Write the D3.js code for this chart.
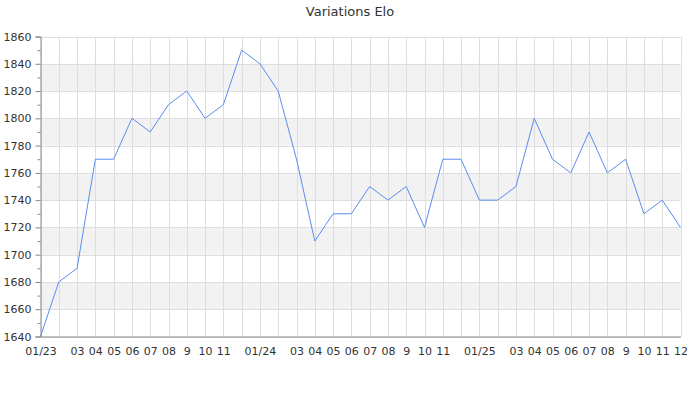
<!DOCTYPE html>
<html><head><meta charset="utf-8">
<script src="https://cdn.jsdelivr.net/npm/d3@7"></script>
<style>body{margin:0;background:#fff;font-family:"DejaVu Sans",sans-serif;}</style>
</head><body><svg id="c" width="700" height="400"></svg>
<script>
const title = "Variations Elo";
const months = d3.range(36);
const tickLabels = ["01/23","","03","04","05","06","07","08","9","10","11","",
                    "01/24","","03","04","05","06","07","08","9","10","11","",
                    "01/25","","03","04","05","06","07","08","9","10","11","12"];
const elo = [1640,1680,1690,1770,1770,1800,1790,1810,1820,1800,1810,1850,
             1840,1820,1770,1710,1730,1730,1750,1740,1750,1720,1770,1770,
             1740,1740,1750,1800,1770,1760,1790,1760,1770,1730,1740,1720];
const yTicks = d3.range(1640, 1861, 20);
const yMinor = d3.range(1650, 1860, 20);

const svg = d3.select("#c");
const L = 40.5, R = 680.5, T = 36.5, B = 336.5;
const x = d3.scaleLinear().domain([0, 35]).range([L, R]);
const y = d3.scaleLinear().domain([1640, 1860]).range([B, T]);

// bands
const bands = yTicks.slice(0, -1).filter((v, i) => i % 2 === 1);
svg.append("g").selectAll("rect").data(bands).join("rect")
  .attr("x", L).attr("width", R - L)
  .attr("y", d => y(d + 20)).attr("height", d => y(d) - y(d + 20))
  .attr("fill", "#f2f2f2");

// grid
svg.append("g").selectAll("line").data(yTicks).join("line")
  .attr("x1", L).attr("x2", R).attr("y1", d => Math.round(y(d)) + 0.5).attr("y2", d => Math.round(y(d)) + 0.5)
  .attr("stroke", "#dedede").attr("stroke-width", 1);
svg.append("g").selectAll("line").data(months).join("line")
  .attr("y1", T).attr("y2", B).attr("x1", d => Math.round(x(d)) + 0.5).attr("x2", d => Math.round(x(d)) + 0.5)
  .attr("stroke", "#dedede").attr("stroke-width", 1);

// line
const line = d3.line().x((d, i) => x(i)).y(d => y(d));
svg.append("path").datum(elo).attr("d", line)
  .attr("fill", "none").attr("stroke", "#5b8def").attr("stroke-width", 1);

// y axis
const yAxis = d3.axisLeft(y).tickValues(yTicks).tickSize(5).tickPadding(4).tickFormat(d3.format("d"));
const gy = svg.append("g").attr("transform", `translate(${L},0)`).call(yAxis);
gy.select(".domain").attr("stroke", "#888");
gy.selectAll(".tick line").attr("stroke", "#888");
gy.selectAll("text").attr("fill", "#333").style("font-size", "11px").style("font-family", "DejaVu Sans");
const gym = svg.append("g").attr("transform", `translate(${L},0)`)
  .call(d3.axisLeft(y).tickValues(yMinor).tickSize(3).tickFormat(""));
gym.select(".domain").remove();
gym.selectAll(".tick line").attr("stroke", "#888");

// x axis
const xAxis = d3.axisBottom(x).tickValues(months).tickSize(0).tickPadding(11).tickFormat(i => tickLabels[i]);
const gx = svg.append("g").attr("transform", `translate(0,${B})`).call(xAxis);
gx.select(".domain").attr("stroke", "#888");
gx.selectAll("text").attr("fill", "#333").style("font-size", "11px").style("font-family", "DejaVu Sans");

svg.append("text").attr("x", 350).attr("y", 16).attr("text-anchor", "middle")
  .attr("fill", "#333").style("font-size", "13px").style("font-family", "DejaVu Sans").text(title);
</script></body></html>
